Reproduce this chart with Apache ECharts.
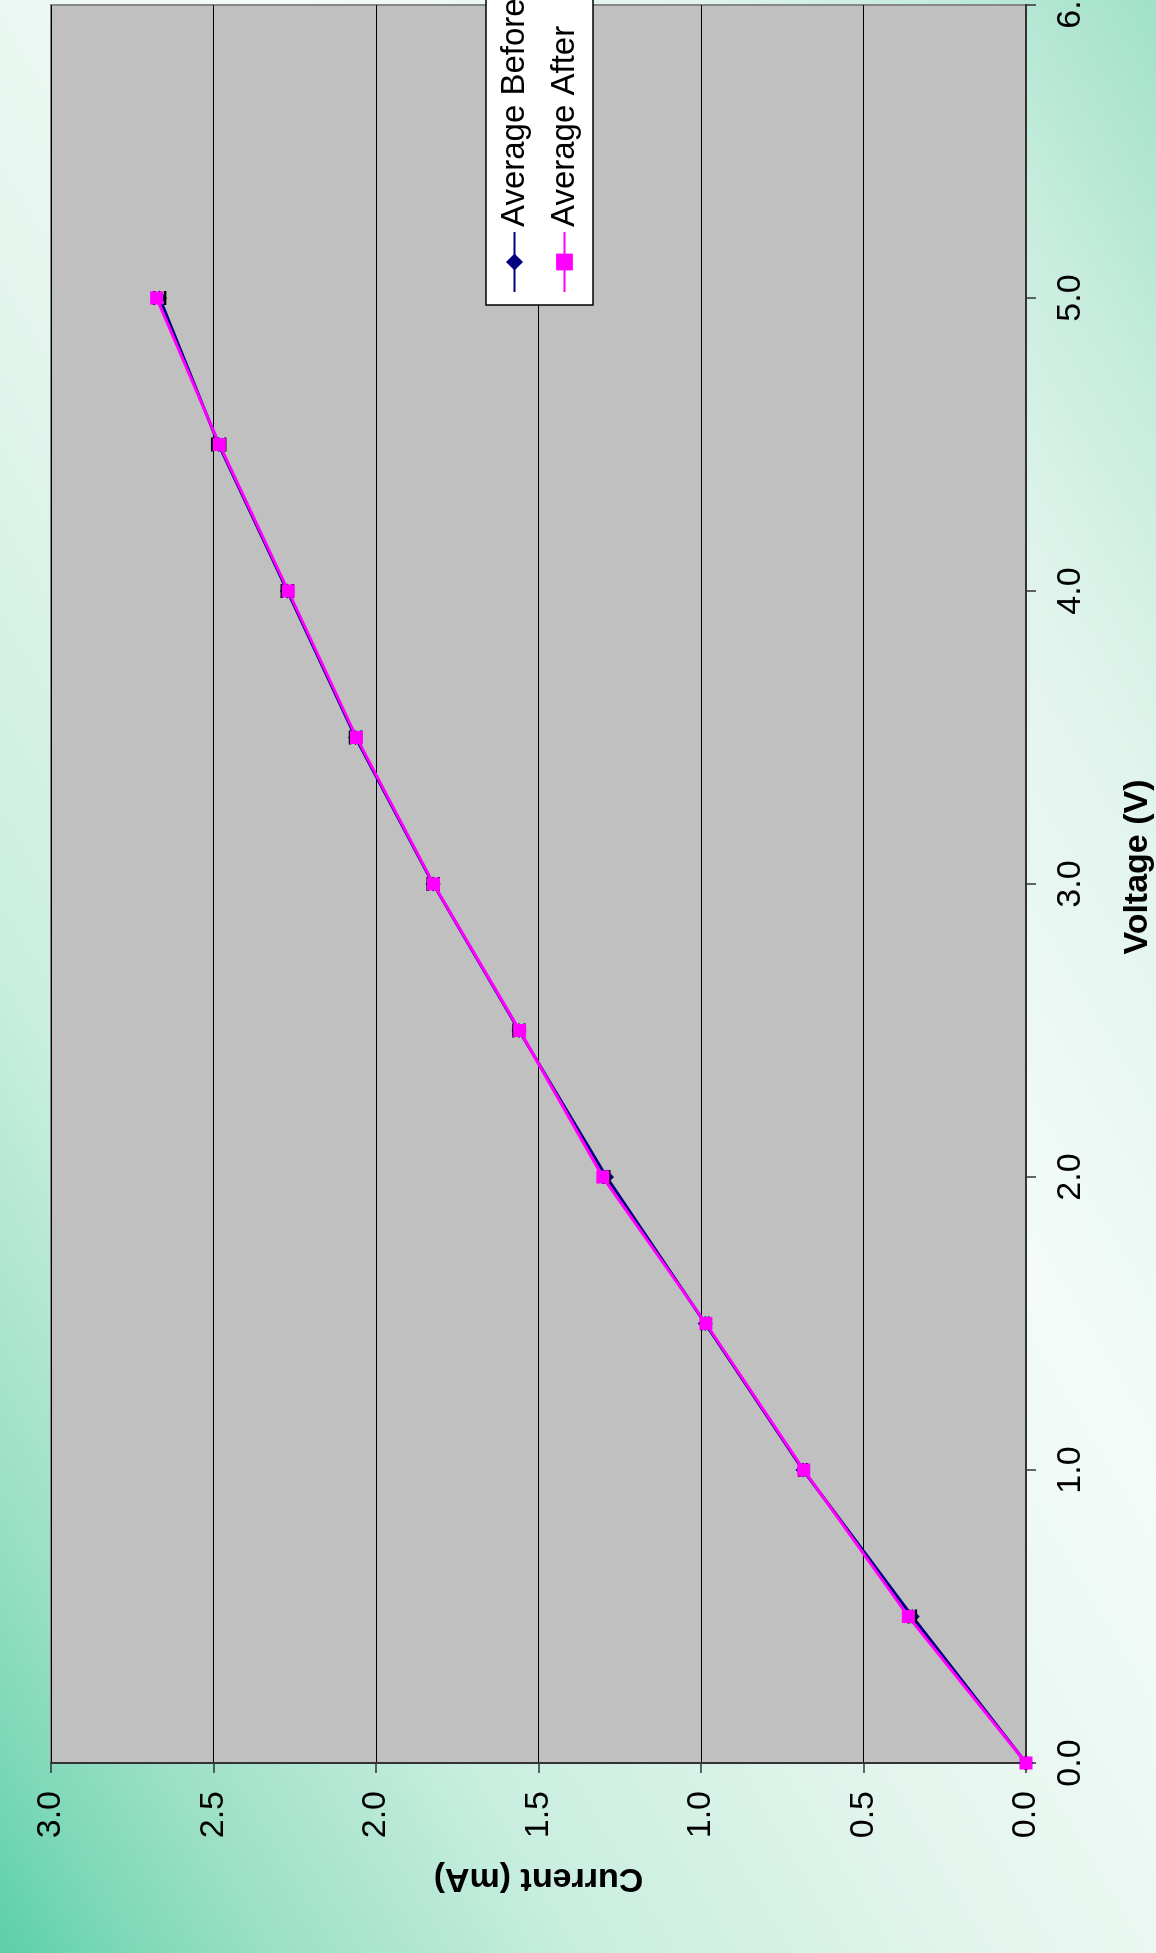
<!DOCTYPE html>
<html>
<head>
<meta charset="utf-8">
<script src="https://cdn.jsdelivr.net/npm/echarts@6/dist/echarts.min.js"></script>
<style>
  html, body { margin: 0; padding: 0; width: 1156px; height: 1953px; overflow: hidden; background: #ffffff; }
  /* chart is drawn landscape and turned a quarter turn, as in the picture */
  #main {
    position: absolute; left: 0; top: 0;
    width: 1953px; height: 1156px;
    transform-origin: 0 0;
    transform: translateY(1953px) rotate(-90deg);
  }
</style>
</head>
<body>
<div id="main"></div>
<script>
// voltage steps (V)
var voltage = [0, 0.5, 1.0, 1.5, 2.0, 2.5, 3.0, 3.5, 4.0, 4.5, 5.0];
// current (mA)
var before = [0, 0.350, 0.686, 0.987, 1.291, 1.560, 1.824, 2.063, 2.273, 2.484, 2.666];
var after = [0, 0.362, 0.684, 0.985, 1.302, 1.558, 1.823, 2.060, 2.270, 2.482, 2.675];
// error half-widths on the "before" points (mA)
var errBefore = [0, 0.011, 0.011, 0.011, 0.009, 0.017, 0.017, 0.017, 0.017, 0.02, 0.017];
var voltTicks = { min: 0, max: 6, step: 1 };
var currTicks = { min: 0, max: 3, step: 0.5 };

var FONT = "'Liberation Sans', Arial, sans-serif";

function pairs(ys) {
  return voltage.map(function (v, i) { return [v, ys[i]]; });
}

var errData = voltage.map(function (v, i) {
  return [v, before[i] - errBefore[i], before[i] + errBefore[i]];
});

var myChart = echarts.init(document.getElementById("main"));
myChart.setOption({
  animation: false,
  backgroundColor: {
    type: "linear", x: 0, y: 0, x2: 1013, y2: 1712, global: true,
    colorStops: [
      { offset: 0, color: "#5ccfa9" },
      { offset: 0.06, color: "#7fd9b9" },
      { offset: 0.12, color: "#9ce0c6" },
      { offset: 0.25, color: "#c8eedf" },
      { offset: 0.45, color: "#e6f6ef" },
      { offset: 0.62, color: "#f4fbf8" },
      { offset: 0.8, color: "#e0f4ec" },
      { offset: 0.9, color: "#c5ecdc" },
      { offset: 1, color: "#a0e1c9" },
    ],
  },
  grid: {
    left: 190, right: 5, top: 51, bottom: 130,
    outerBoundsMode: "none",
    containLabel: false,
    show: true,
    backgroundColor: "#c0c0c0",
    borderColor: "#888888",
    borderWidth: 2,
  },
  legend: {
    data: ["Average Before", "Average After"],
    orient: "vertical",
    left: 1648, top: 486,
    padding: [12, 40, 12, 12],
    itemWidth: 60, itemHeight: 21, itemGap: 17,
    backgroundColor: "#ffffff",
    borderColor: "#000000",
    borderWidth: 1.5,
    borderRadius: 0,
    textStyle: { fontFamily: FONT, fontSize: 33, color: "#000" },
  },
  xAxis: {
    type: "value",
    min: voltTicks.min, max: voltTicks.max, interval: voltTicks.step,
    name: "Voltage (V)",
    nameLocation: "middle",
    nameGap: 95,
    nameTextStyle: { fontFamily: FONT, fontSize: 34, fontWeight: "bold", color: "#000", padding: [0, 0, 0, 34] },
    axisLine: { show: true, onZero: false, lineStyle: { color: "#333", width: 2 } },
    axisTick: { show: true, inside: false, length: 10, lineStyle: { color: "#333", width: 1.5 } },
    axisLabel: {
      fontFamily: FONT, fontSize: 34, color: "#000", margin: 28,
      formatter: function (v) { return v.toFixed(1); },
    },
    splitLine: { show: false },
  },
  yAxis: {
    type: "value",
    min: currTicks.min, max: currTicks.max, interval: currTicks.step,
    name: "Current (mA)",
    nameLocation: "middle",
    nameGap: 98,
    nameTextStyle: { fontFamily: FONT, fontSize: 34, fontWeight: "bold", color: "#000" },
    axisLine: { show: true, onZero: false, lineStyle: { color: "#333", width: 2 } },
    axisTick: { show: true, inside: false, length: 10, lineStyle: { color: "#333", width: 1.5 } },
    axisLabel: {
      fontFamily: FONT, fontSize: 34, color: "#000", margin: 28,
      formatter: function (v) { return v.toFixed(1); },
    },
    splitLine: { show: true, lineStyle: { color: "#000", width: 1.2 } },
  },
  series: [
    {
      name: "Average Before",
      type: "line",
      data: pairs(before),
      symbol: "diamond",
      symbolSize: 15,
      showAllSymbol: true,
      itemStyle: { color: "#000080" },
      lineStyle: { color: "#000080", width: 3 },
      z: 3,
    },
    {
      name: "errors",
      type: "custom",
      data: errData,
      z: 4,
      renderItem: function (params, api) {
        var lo = api.coord([api.value(0), api.value(1)]);
        var hi = api.coord([api.value(0), api.value(2)]);
        var w = 7;
        var st = { stroke: "#000", lineWidth: 2.5 };
        return {
          type: "group",
          children: [
            { type: "line", shape: { x1: lo[0], y1: lo[1], x2: hi[0], y2: hi[1] }, style: st },
            { type: "line", shape: { x1: lo[0] - w, y1: lo[1], x2: lo[0] + w, y2: lo[1] }, style: st },
            { type: "line", shape: { x1: hi[0] - w, y1: hi[1], x2: hi[0] + w, y2: hi[1] }, style: st },
          ],
        };
      },
    },
    {
      name: "Average After",
      type: "line",
      data: pairs(after),
      symbol: "rect",
      symbolSize: 13,
      showAllSymbol: true,
      itemStyle: { color: "#ff00ff" },
      lineStyle: { color: "#ff00ff", width: 3 },
      z: 5,
    },
  ],
});
</script>
</body>
</html>
